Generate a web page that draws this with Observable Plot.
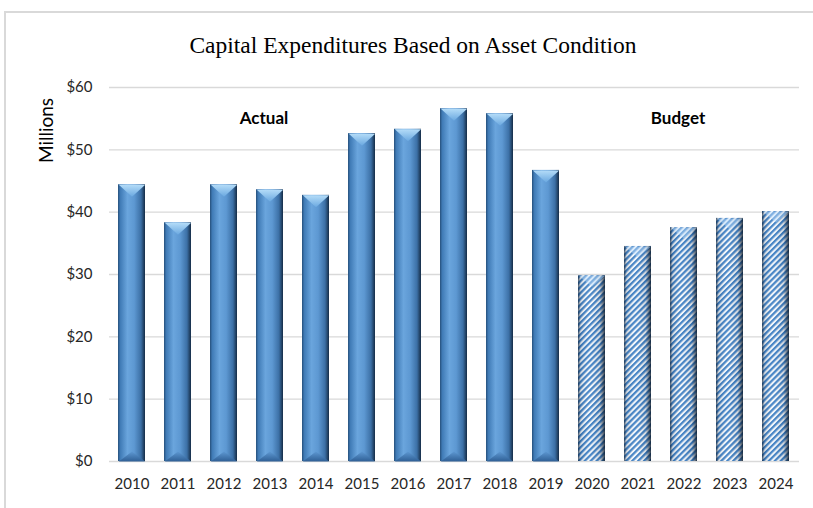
<!DOCTYPE html>
<html>
<head>
<meta charset="utf-8">
<script src="https://cdn.jsdelivr.net/npm/d3@7"></script>
<script src="https://cdn.jsdelivr.net/npm/@observablehq/plot@0.6"></script>
<style>
  html, body { margin: 0; padding: 0; background: #fff; width: 813px; height: 508px; overflow: hidden; }
  #frame { position: absolute; left: 4px; top: 11px; width: 830px; height: 530px; border: 2px solid #d9d9d9; box-sizing: border-box; }
  #title { position: absolute; left: 0; top: 30px; width: 826px; text-align: center; font-family: "Liberation Serif", "Times New Roman", serif; font-size: 23.5px; color: #000; line-height: 30px; }
  #chart { position: absolute; left: 0; top: 70px; }
</style>
</head>
<body>
<div id="frame"></div>
<div id="title">Capital Expenditures Based on Asset Condition</div>
<div id="chart"></div>
<script>
const actualYears = ["2010","2011","2012","2013","2014","2015","2016","2017","2018","2019"];
const actualValues = [44.4, 38.3, 44.4, 43.6, 42.7, 52.6, 53.3, 56.6, 55.8, 46.7];
const budgetYears = ["2020","2021","2022","2023","2024"];
const budgetValues = [29.8, 34.5, 37.5, 39.0, 40.1];
const yTicks = [0, 10, 20, 30, 40, 50, 60];
const annotations = [{x: "2013", y: 55, label: "Actual"}, {x: "2022", y: 55, label: "Budget"}];

const actual = actualYears.map((year, i) => ({year, value: actualValues[i]}));
const budget = budgetYears.map((year, i) => ({year, value: budgetValues[i]}));
const allYears = actualYears.concat(budgetYears);

const HALF = 13.2;
const topBevel = {draw(ctx, l) { ctx.moveTo(-HALF, 0); ctx.lineTo(HALF, 0); ctx.lineTo(0, l); ctx.closePath(); }};
const bottomBevel = {draw(ctx, l) { ctx.moveTo(-HALF, 0); ctx.lineTo(HALF, 0); ctx.lineTo(0, -l); ctx.closePath(); }};

const svg = Plot.plot({
  width: 813,
  height: 438,
  marginTop: 17,
  marginBottom: 47,
  marginLeft: 109,
  marginRight: 14,
  style: {fontFamily: "Lato, 'Open Sans', sans-serif", fontSize: "15px", color: "#262626", background: "transparent"},
  x: {domain: allYears, paddingInner: 0.413, paddingOuter: 0.2065, label: null, tickSize: 0, tickPadding: 17},
  y: {domain: [0, 60], ticks: yTicks, tickFormat: d => "$" + d, label: null, tickSize: 0, tickPadding: 17},
  marks: [
    Plot.ruleY(yTicks, {stroke: "#d9d9d9", strokeWidth: 1.3}),
    Plot.barY(actual, {x: "year", y: "value", fill: "url(#gradActual)"}),
    Plot.vector(actual, {x: "year", y: "value", length: 12, anchor: "start", shape: topBevel, fill: "url(#gradTop)", stroke: "none"}),
    Plot.vector(actual, {x: "year", y: 0, length: 10, anchor: "start", shape: bottomBevel, fill: "url(#gradBottom)", stroke: "none"}),
    Plot.barY(budget, {x: "year", y: "value", fill: "url(#hatch)"}),
    Plot.barY(budget, {x: "year", y: "value", fill: "url(#shade)"}),
    Plot.vector(budget, {x: "year", y: "value", length: 11, anchor: "start", shape: topBevel, fill: "rgba(190,225,255,0.45)", stroke: "none"}),
    Plot.text(annotations, {x: "x", y: "y", text: "label", dx: -6, fontWeight: "bold", fontSize: 17, fill: "#000"}),
    Plot.text(["Millions"], {frameAnchor: "top-left", text: d => d, rotate: -90, dx: -70, dy: 43, fontSize: 19, fill: "#000", textAnchor: "middle"})
  ]
});

const defs = `
<defs>
  <linearGradient id="gradActual" x1="0" x2="1" y1="0" y2="0">
    <stop offset="0%" stop-color="#264f7a"/>
    <stop offset="8%" stop-color="#3f7ab5"/>
    <stop offset="35%" stop-color="#6aa5dd"/>
    <stop offset="60%" stop-color="#5d98d2"/>
    <stop offset="85%" stop-color="#3c70a6"/>
    <stop offset="100%" stop-color="#152c46"/>
  </linearGradient>
  <linearGradient id="gradTop" x1="0" x2="0" y1="0" y2="1">
    <stop offset="0%" stop-color="#b4dcf8"/>
    <stop offset="100%" stop-color="#6aa8e0"/>
  </linearGradient>
  <linearGradient id="gradBottom" x1="0" x2="0" y1="0" y2="1">
    <stop offset="0%" stop-color="#5d98d2"/>
    <stop offset="100%" stop-color="#2f5f95"/>
  </linearGradient>
  <pattern id="hatch" width="4.2" height="4.2" patternUnits="userSpaceOnUse" patternTransform="rotate(45)">
    <rect width="4.2" height="4.2" fill="#f4f8fc"/>
    <rect width="2.2" height="4.2" fill="#3f80c4"/>
  </pattern>
  <linearGradient id="shade" x1="0" x2="1" y1="0" y2="0">
    <stop offset="0%" stop-color="#10243c" stop-opacity="0.75"/>
    <stop offset="10%" stop-color="#10243c" stop-opacity="0.15"/>
    <stop offset="40%" stop-color="#ffffff" stop-opacity="0.05"/>
    <stop offset="80%" stop-color="#10243c" stop-opacity="0.15"/>
    <stop offset="100%" stop-color="#0a1828" stop-opacity="0.85"/>
  </linearGradient>
</defs>`;
svg.insertAdjacentHTML("afterbegin", defs);
document.getElementById("chart").appendChild(svg);
</script>
</body>
</html>
